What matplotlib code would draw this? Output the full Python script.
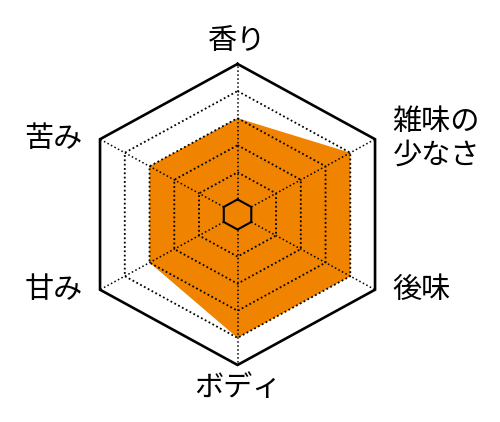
import numpy as np
import matplotlib.pyplot as plt

plt.rcParams['font.family'] = ['Noto Sans CJK JP', 'DejaVu Sans']

# axes clockwise from the top
labels = ["香り", "雑味の\n少なさ", "後味", "ボディ", "甘み", "苦み"]
values = [3, 4, 4, 4, 3, 3]
levels = [0, 1, 2, 3, 4, 5]

r0, step = 0.1, 0.18  # radius of level 0 and spacing between levels
fill_color = "#f08300"

angles = np.arange(6) * np.pi / 3


def hexagon(radii):
    radii = np.asarray(radii, dtype=float)
    x = radii * np.sin(angles)
    y = radii * np.cos(angles)
    return np.append(x, x[0]), np.append(y, y[0])


fig = plt.figure(figsize=(5.0, 4.22), dpi=100)
ax = fig.add_axes([0, 0, 1, 1])
# the reference is slightly stretched horizontally
ax.set_xlim(-1.496, 1.653)
ax.set_ylim(-1.379, 1.425)
ax.axis("off")

# data polygon
vx, vy = hexagon([r0 + step * v for v in values])
ax.fill(vx, vy, color=fill_color, lw=0, zorder=1)

# grid rings
for lv in levels:
    hx, hy = hexagon([r0 + step * lv] * 6)
    if lv == levels[0]:
        ax.plot(hx, hy, color="black", lw=1.5, zorder=3)
    elif lv == levels[-1]:
        ax.plot(hx, hy, color="black", lw=1.9, zorder=3,
                solid_joinstyle="miter")
    else:
        ax.plot(hx, hy, color="black", lw=1.3, ls=(0, (1, 1.4)), zorder=2)

# spokes
rin, rout = r0, r0 + step * levels[-1]
for a in angles:
    ax.plot([rin * np.sin(a), rout * np.sin(a)],
            [rin * np.cos(a), rout * np.cos(a)],
            color="black", lw=1.1, ls=(0, (1, 1.6)), zorder=2)

# axis labels
for a, lab in zip(angles, labels):
    sx, cy = np.sin(a), np.cos(a)
    if abs(sx) < 1e-6:
        ax.text(0, 1.155 * np.sign(cy), lab, ha="center", va="center",
                fontsize=21)
    else:
        x = rout * sx + 0.11 * np.sign(sx)
        ax.text(x, rout * cy, lab, ha="left" if sx > 0 else "right",
                va="center", fontsize=21, linespacing=1.15)

fig.savefig("out.png", dpi=100)
